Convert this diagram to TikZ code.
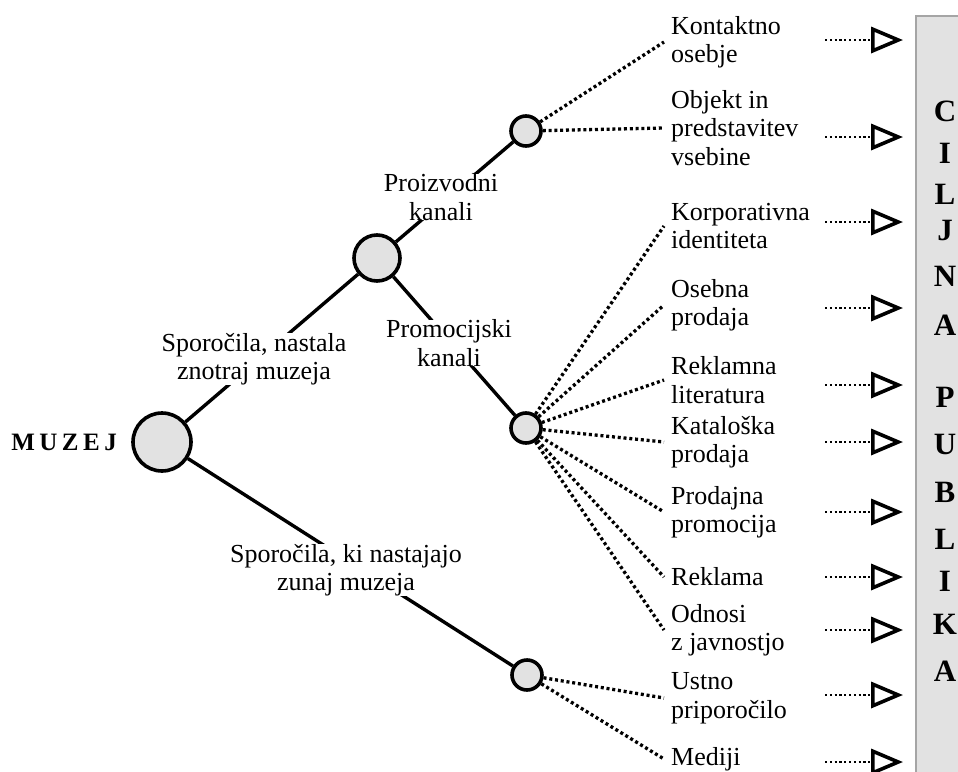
\documentclass[tikz,border=0pt]{standalone}
\usepackage{fontspec}
\setmainfont{Liberation Serif}
\usepackage{tikz}
\usetikzlibrary{arrows.meta,positioning,calc}
\definecolor{NodeGray}{RGB}{226,226,226}
\definecolor{BoxLine}{RGB}{165,165,165}
\tikzset{
  hub/.style={circle,draw=black,line width=3.6pt,fill=NodeGray,inner sep=0pt},
  bighub/.style={hub,minimum size=58pt},
  midhub/.style={hub,minimum size=46pt},
  smallhub/.style={hub,minimum size=30pt},
  branch/.style={line width=3.4pt,black},
  chan/.style={line width=3.3pt,dash pattern=on 3pt off 2.8pt},
  lbl/.style={align=center,fill=white,inner sep=0pt,
              font=\fontsize{26}{28.5}\selectfont},
  item/.style={align=left,anchor=west,inner xsep=7pt,inner ysep=0pt,
               font=\fontsize{26}{28.5}\selectfont},
  reach/.style={-{Triangle[open,length=32pt,width=26pt,line width=3.6pt]},
                line width=2.6pt,dash pattern=on 2.2pt off 2.6pt,shorten >=12pt},
  letter/.style={font=\fontsize{31}{31}\selectfont\bfseries,inner sep=0pt},
}

\begin{document}
\begin{tikzpicture}[x=1pt,y=-1pt]
  \useasboundingbox (0,0) rectangle (958,771);
  % ciljna publika
  \node[draw=BoxLine,fill=NodeGray,line width=1.6pt,anchor=north west,
        minimum width=60pt,minimum height=760pt] (pub) at (915,15) {};
  \foreach \ch/\y [count=\i] in {C/111,I/153,L/194,J/230,N/276,A/325,
                                 P/397,U/444,B/492,L/539,I/581,K/624,A/671}
    \node[letter] (ch\i) at (945,\y) {\ch};
  % vozlisca
  \node[font=\fontsize{25}{25}\selectfont\bfseries] (muzejtxt) at (64,442)
       {M\hskip4.5pt U\hskip4.5pt Z\hskip4.5pt E\hskip4.5pt J};
  \node[bighub]   (big)   at (162,442) {};
  \node[midhub]   (mid)   at (377,258) {};
  \node[smallhub] (prod)  at (526,131) {};
  \node[smallhub] (promo) at (526,428) {};
  \node[smallhub] (ext)   at (527,675) {};
  \draw[branch] (big) -- (mid);
  \draw[branch] (mid) -- (prod);
  \draw[branch] (mid) -- (promo);
  \draw[branch] (big) -- (ext);
  \node[lbl] (notri)  at (254,359) {Sporočila, nastala\\znotraj muzeja};
  \node[lbl] (proiz)  at (441,197) {Proizvodni\\kanali};
  \node[lbl] (promk)  at (449,343) {Promocijski\\kanali};
  \node[lbl] (zunaj)  at (346,570) {Sporočila, ki nastajajo\\zunaj muzeja};
  % kanali
  \node[item] (kont)   at (664,42)  {Kontaktno\\osebje};
  \node[item] (obj)    at (664,128) {Objekt in\\predstavitev\\vsebine};
  \node[item] (korp)   at (664,226) {Korporativna\\identiteta};
  \node[item] (oseb)   at (664,305) {Osebna\\prodaja};
  \node[item] (reklit) at (664,380) {Reklamna\\literatura};
  \node[item] (katal)  at (664,442) {Kataloška\\prodaja};
  \node[item] (prpro)  at (664,512) {Prodajna\\promocija};
  \node[item] (rekl)   at (664,577) {Reklama};
  \node[item] (odnos)  at (664,630) {Odnosi\\z javnostjo};
  \node[item] (ustno)  at (664,698) {Ustno\\priporočilo};
  \node[item] (medij)  at (664,759) {Mediji};
  \foreach \t in {kont,obj}
    \draw[chan] (prod) -- (\t.west);
  \foreach \t in {korp,oseb,reklit,katal,prpro,rekl,odnos}
    \draw[chan] (promo) -- (\t.west);
  \foreach \t in {ustno,medij}
    \draw[chan] (ext) -- (\t.west);
  % puscice
  \foreach \y [count=\i] in {40,137,222,308,385,442,512,577,630,695,762} {
    \coordinate (s\i) at (825,\y);
    \draw[reach] (s\i) -- (s\i -| pub.west);
  }
\end{tikzpicture}
\end{document}
